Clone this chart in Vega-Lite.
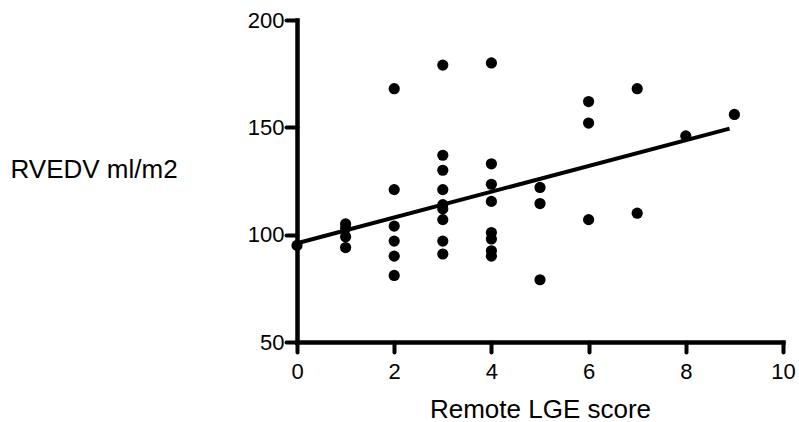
{
  "$schema": "https://vega.github.io/schema/vega-lite/v6.json",
  "autosize": "none",
  "width": 486,
  "height": 322,
  "padding": {"left": 297, "top": 20, "right": 16, "bottom": 80},
  "background": "white",
  "config": {
    "view": {"stroke": null},
    "font": "Liberation Sans",
    "axis": {"grid": false, "domainColor": "black", "tickColor": "black", "labelColor": "black", "titleColor": "black", "titleFontWeight": "normal", "domainWidth": 4.5, "tickWidth": 4, "domainCap": "square", "tickCap": "round"}
  },
  "datasets": {
    "points": [
      {"score": 0, "rvedv": 95},
      {"score": 1, "rvedv": 105},
      {"score": 1, "rvedv": 103},
      {"score": 1, "rvedv": 99},
      {"score": 1, "rvedv": 94},
      {"score": 2, "rvedv": 168},
      {"score": 2, "rvedv": 121},
      {"score": 2, "rvedv": 104},
      {"score": 2, "rvedv": 97},
      {"score": 2, "rvedv": 90},
      {"score": 2, "rvedv": 81},
      {"score": 3, "rvedv": 179},
      {"score": 3, "rvedv": 137},
      {"score": 3, "rvedv": 130},
      {"score": 3, "rvedv": 121},
      {"score": 3, "rvedv": 114},
      {"score": 3, "rvedv": 112},
      {"score": 3, "rvedv": 107},
      {"score": 3, "rvedv": 97},
      {"score": 3, "rvedv": 91},
      {"score": 4, "rvedv": 180},
      {"score": 4, "rvedv": 133},
      {"score": 4, "rvedv": 123.5},
      {"score": 4, "rvedv": 115.5},
      {"score": 4, "rvedv": 101},
      {"score": 4, "rvedv": 98},
      {"score": 4, "rvedv": 92.5},
      {"score": 4, "rvedv": 90},
      {"score": 5, "rvedv": 122},
      {"score": 5, "rvedv": 114.5},
      {"score": 5, "rvedv": 79},
      {"score": 6, "rvedv": 162},
      {"score": 6, "rvedv": 152},
      {"score": 6, "rvedv": 107},
      {"score": 7, "rvedv": 168},
      {"score": 7, "rvedv": 110},
      {"score": 8, "rvedv": 146},
      {"score": 9, "rvedv": 156}
    ],
    "fit": [
      {"score": 0, "rvedv": 96},
      {"score": 8.9, "rvedv": 149.4}
    ]
  },
  "layer": [
    {
      "data": {"name": "fit"},
      "mark": {"type": "line", "color": "black", "strokeWidth": 4, "strokeCap": "butt", "clip": false},
      "encoding": {
        "x": {"field": "score", "type": "quantitative", "scale": {"domain": [0, 10], "nice": false, "zero": false}},
        "y": {"field": "rvedv", "type": "quantitative", "scale": {"domain": [50, 200], "nice": false, "zero": false}}
      }
    },
    {
      "data": {"name": "points"},
      "mark": {"type": "circle", "color": "black", "opacity": 1, "size": 125, "clip": false},
      "encoding": {
        "x": {
          "field": "score", "type": "quantitative",
          "scale": {"domain": [0, 10], "nice": false, "zero": false},
          "axis": {
            "values": [0, 2, 4, 6, 8, 10],
            "tickSize": 10,
            "labelFontSize": 22,
            "labelPadding": 9,
            "labelFlush": false,
            "title": "Remote LGE score",
            "titleFontSize": 26,
            "titleBaseline": "alphabetic",
            "titleY": 75
          }
        },
        "y": {
          "field": "rvedv", "type": "quantitative",
          "scale": {"domain": [50, 200], "nice": false, "zero": false},
          "axis": {
            "values": [50, 100, 150, 200],
            "tickSize": 11,
            "labelFontSize": 22,
            "labelPadding": 2,
            "labelFlush": false,
            "title": "RVEDV ml/m2",
            "titleFontSize": 26,
            "titleAngle": 0,
            "titleAlign": "left",
            "titleBaseline": "alphabetic",
            "titleX": -287,
            "titleY": 157
          }
        }
      }
    }
  ]
}
